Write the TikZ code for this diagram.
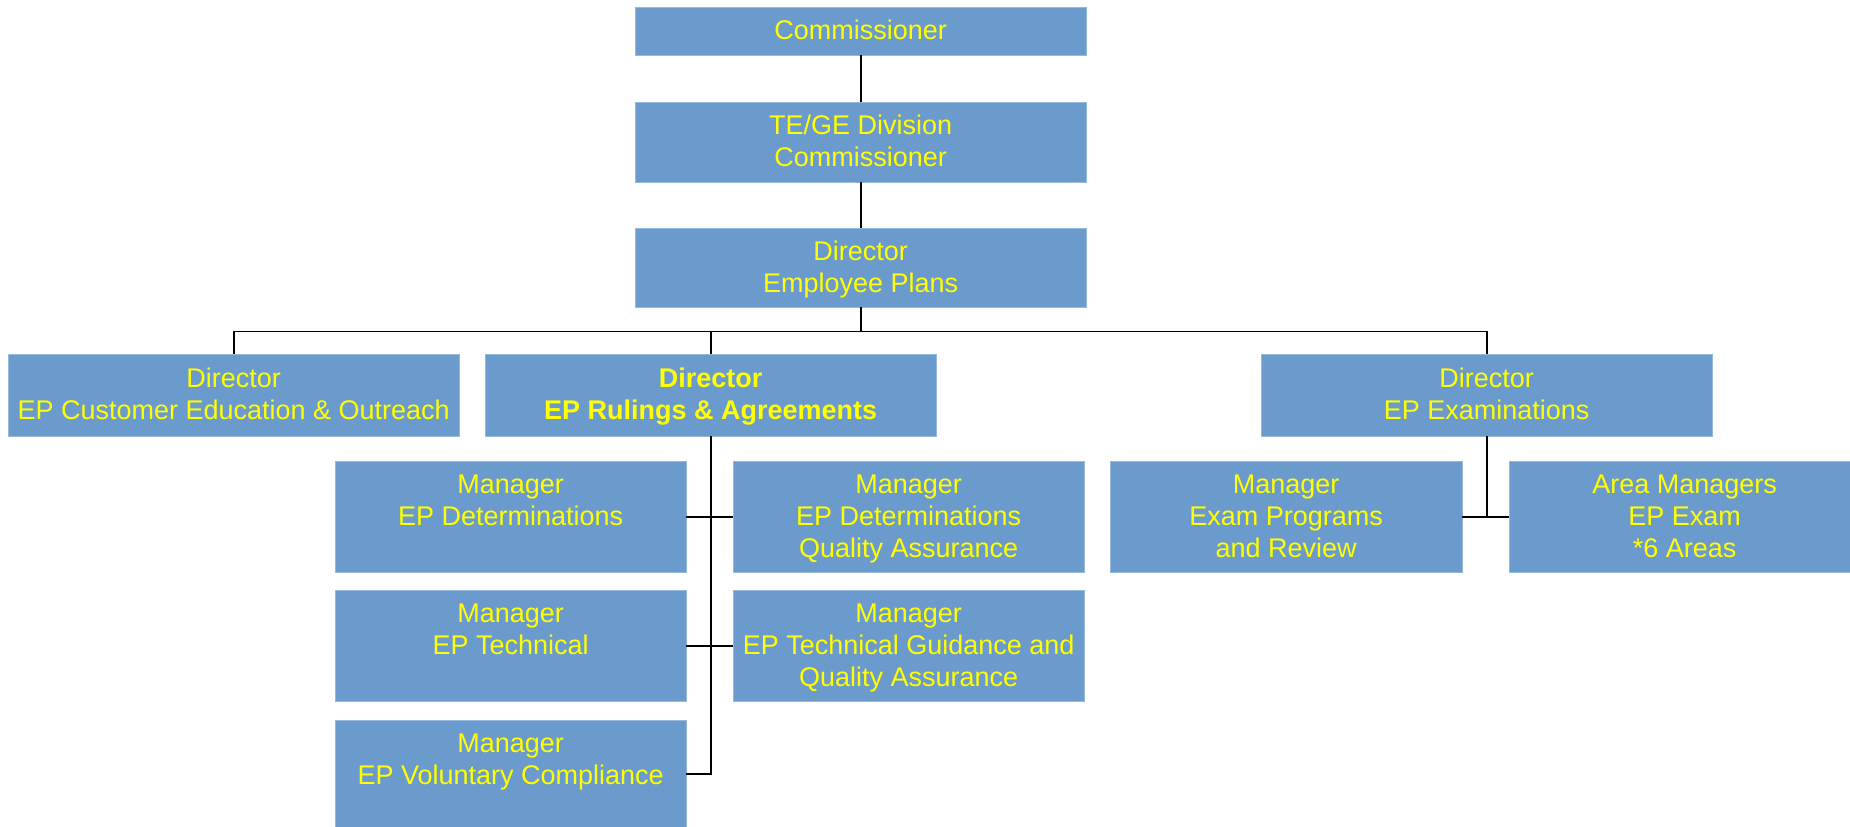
\documentclass[tikz,border=0pt]{standalone}
\usepackage{fontspec}
\setmainfont{Liberation Sans}
\definecolor{boxblue}{RGB}{106,155,204}
\definecolor{boxedge}{RGB}{150,186,222}
\definecolor{txtyellow}{RGB}{255,255,0}
\begin{document}
\begin{tikzpicture}[x=1pt,y=-1pt,
  orgbox/.style={fill=boxblue,draw=boxedge,line width=0.8pt,inner sep=0pt},
  orgtxt/.style={anchor=north,inner sep=0pt,align=center,text=txtyellow,
    font=\fontsize{27}{32}\selectfont},
  link/.style={draw=black,line width=1.6pt}]
\useasboundingbox (0,0) rectangle (1850,827);
% boxes
\newcommand{\orgbox}[5]{%
  \path[orgbox] (#2,#3) rectangle (#4,#5);
  \node[inner sep=0pt,minimum width={#4-#2},minimum height={#5-#3},anchor=north west] (#1) at (#2,#3) {};}
\orgbox{com}{635}{7}{1086}{55}
\orgbox{tege}{635}{102}{1086}{182}
\orgbox{dep}{635}{228}{1086}{307}
\orgbox{ceo}{8}{354}{459}{436}
\orgbox{ra}{485}{354}{936}{436}
\orgbox{ex}{1261}{354}{1712}{436}
\orgbox{det}{335}{461}{686}{572}
\orgbox{dqa}{733}{461}{1084}{572}
\orgbox{tech}{335}{590}{686}{701}
\orgbox{tgqa}{733}{590}{1084}{701}
\orgbox{vc}{335}{720}{686}{827}
\orgbox{epr}{1110}{461}{1462}{572}
\orgbox{am}{1509}{461}{1860}{572}
% texts
\node[orgtxt] (tcom) at ([yshift=-13pt]com.north) {Commissioner};
\node[orgtxt] (ttege) at ([yshift=-13pt]tege.north) {TE/GE Division\\Commissioner};
\node[orgtxt] (tdep) at ([yshift=-12.5pt]dep.north) {Director\\Employee Plans};
\node[orgtxt] (tceo) at ([yshift=-14pt]ceo.north) {Director\\EP Customer Education \& Outreach};
\node[orgtxt,font=\fontsize{27}{32}\selectfont\bfseries] (tra) at ([yshift=-14pt]ra.north) {Director\\EP Rulings \& Agreements};
\node[orgtxt] (tex) at ([yshift=-14pt]ex.north) {Director\\EP Examinations};
\node[orgtxt] (tdet) at ([yshift=-14pt]det.north) {Manager\\EP Determinations};
\node[orgtxt] (tdqa) at ([yshift=-14pt]dqa.north) {Manager\\EP Determinations\\Quality Assurance};
\node[orgtxt] (ttech) at ([yshift=-14pt]tech.north) {Manager\\EP Technical};
\node[orgtxt] (ttgqa) at ([yshift=-14pt]tgqa.north) {Manager\\EP Technical Guidance and\\Quality Assurance};
\node[orgtxt] (tvc) at ([yshift=-14pt]vc.north) {Manager\\EP Voluntary Compliance};
\node[orgtxt] (tepr) at ([yshift=-14pt]epr.north) {Manager\\Exam Programs\\and Review};
\node[orgtxt] (tam) at ([yshift=-14pt]am.north) {Area Managers\\EP Exam\\*6 Areas};
% connectors
\path (dep.south) ++(0,24) coordinate (bus);
\draw[link] (com.south) -- (tege.north);
\draw[link] (tege.south) -- (dep.north);
\draw[link] (dep.south) -- (bus);
\draw[link] (ceo.north) -- (ceo.north |- bus) -- (ex.north |- bus) -- (ex.north);
\draw[link] (ra.north) -- (ra.north |- bus);
\draw[link] (ra.south) -- (ra.south |- vc.east) -- (vc.east);
\draw[link] (det.east) -- (dqa.west);
\draw[link] (tech.east) -- (tgqa.west);
\draw[link] (ex.south) -- (ex.south |- epr.east);
\draw[link] (epr.east) -- (am.west);
\end{tikzpicture}
\end{document}
